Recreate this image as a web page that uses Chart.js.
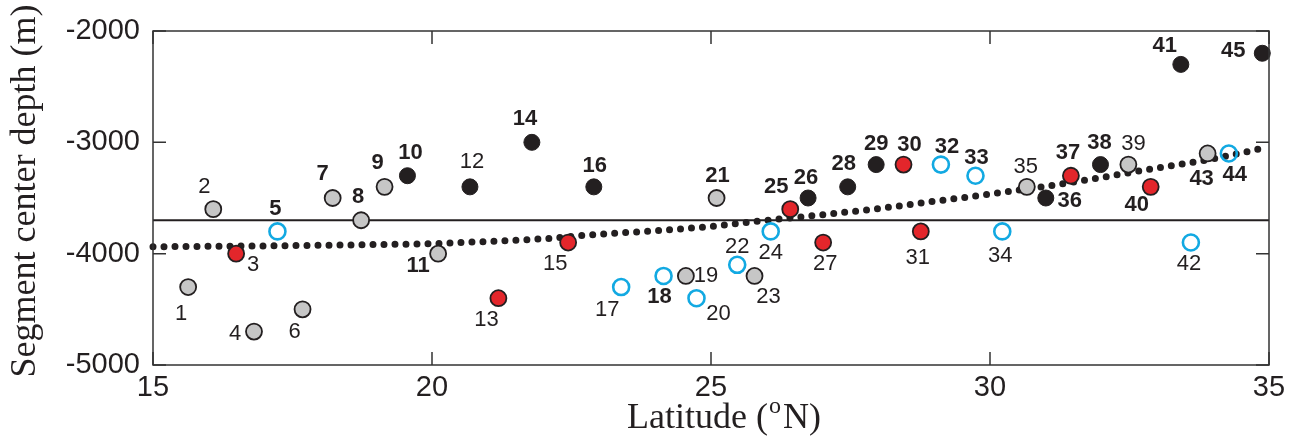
<!DOCTYPE html>
<html>
<head>
<meta charset="utf-8">
<script src="https://cdn.jsdelivr.net/npm/chart.js@4.4.0/dist/chart.umd.min.js"></script>
<style>
  html, body { margin: 0; padding: 0; background: #fff; }
  #wrap { width: 1300px; height: 440px; }
</style>
</head>
<body>
<div id="wrap"><canvas id="depth-chart" width="1300" height="440"></canvas></div>
<script>
// segment data
var segIds = [1,2,3,4,5,6,7,8,9,10,11,12,13,14,15,16,17,18,19,20,21,22,23,24,25,26,27,28,29,30,31,32,33,34,35,36,37,38,39,40,41,42,43,44,45];
var lats = [15.63,16.08,16.49,16.81,17.23,17.68,18.22,18.73,19.15,19.56,20.11,20.68,21.19,21.79,22.44,22.90,23.39,24.15,24.55,24.74,25.10,25.47,25.78,26.07,26.42,26.74,27.01,27.45,27.96,28.45,28.76,29.12,29.74,30.22,30.66,31.00,31.45,31.98,32.48,32.88,33.42,33.60,33.90,34.28,34.88];
var depths = [-4300,-3600,-4000,-4700,-3800,-4500,-3500,-3700,-3400,-3300,-4000,-3400,-4400,-3000,-3900,-3400,-4300,-4200,-4200,-4400,-3500,-4100,-4200,-3800,-3600,-3500,-3900,-3400,-3200,-3200,-3800,-3200,-3300,-3800,-3400,-3500,-3300,-3200,-3200,-3400,-2300,-3900,-3100,-3100,-2200];
// g = grey, r = red, b = black, c = open blue
var kinds = ["g","g","r","g","c","g","g","g","g","b","g","b","r","b","r","b","c","c","g","c","g","c","g","c","r","b","r","b","b","r","r","c","c","c","g","b","r","b","g","r","b","c","g","c","b"];

// mean depth line and the dotted trend curve
var meanLat = [15, 35];
var meanDepth = [-3700, -3700];
var trendLat = [15, 17, 19, 20, 21, 22, 23, 24, 25, 26, 27, 28, 29, 30, 31, 32, 33, 34, 34.8];
var trendDepth = [-3938, -3930, -3918, -3910, -3890, -3866, -3825, -3795, -3755, -3700, -3650, -3595, -3530, -3465, -3395, -3315, -3230, -3148, -3063];

var xTicks = [15, 20, 25, 30, 35];
var yTicks = [-5000, -4000, -3000, -2000];

// label placement (pixels from the marker) and weight
var labelDx = [-7,-9,17,-19,-2,-8,-10,-3,-7,3,-20,2,-12,-7,-13,1,-14,-4,20,22,1,0,14,0,-14,-2,2,-4,0,6,-3,6,1,-2,-1,24,-3,-1,5,-14,-16,-2,-6,6,-29];
var labelDy = [27,-22,11,2,-22,23,-24,-23,-24,-23,12,-25,22,-23,21,-21,23,21,0,16,-22,-18,21,22,-22,-20,21,-23,-21,-20,27,-18,-18,25,-20,3,-23,-22,-21,18,-18,21,25,21,-2];
var boldIds = [5,7,8,9,10,11,14,16,18,21,25,26,28,29,30,32,33,36,37,38,40,41,43,44,45];

var INK = "#231f20";

function pick(kind) {
	var pts = [];
	for (var i = 0; i < segIds.length; i++) {
		if (kinds[i] == kind) pts.push({ x: lats[i], y: depths[i] });
	}
	return pts;
}
function zip(xs, ys) {
	var pts = [];
	for (var i = 0; i < xs.length; i++) pts.push({ x: xs[i], y: ys[i] });
	return pts;
}

function pointSet(kind, fill, border, bw) {
	return {
		label: kind,
		data: pick(kind),
		showLine: false,
		pointRadius: 8,
		pointBackgroundColor: fill,
		pointBorderColor: border,
		pointBorderWidth: bw,
		clip: false,
		order: 1
	};
}

// frame with inward ticks, like the original plot
var framePlugin = {
	id: "frame",
	afterDatasetsDraw: function(chart) {
		var ctx = chart.ctx, a = chart.chartArea;
		var xs = chart.scales.x, ys = chart.scales.y;
		ctx.save();
		ctx.strokeStyle = "#333";
		ctx.lineWidth = 1.5;
		ctx.strokeRect(a.left, a.top, a.right - a.left, a.bottom - a.top);
		ctx.beginPath();
		xTicks.forEach(function(v) {
			var px = xs.getPixelForValue(v);
			ctx.moveTo(px, a.bottom); ctx.lineTo(px, a.bottom - 13);
			ctx.moveTo(px, a.top); ctx.lineTo(px, a.top + 13);
		});
		yTicks.forEach(function(v) {
			var py = ys.getPixelForValue(v);
			ctx.moveTo(a.left, py); ctx.lineTo(a.left + 13, py);
			ctx.moveTo(a.right, py); ctx.lineTo(a.right - 13, py);
		});
		ctx.stroke();
		ctx.restore();
	}
};

// segment numbers next to each marker
var idPlugin = {
	id: "segIds",
	afterDatasetsDraw: function(chart) {
		var ctx = chart.ctx;
		var xs = chart.scales.x, ys = chart.scales.y;
		ctx.save();
		ctx.fillStyle = INK;
		ctx.textAlign = "center";
		ctx.textBaseline = "middle";
		for (var i = 0; i < segIds.length; i++) {
			var bold = boldIds.indexOf(segIds[i]) >= 0;
			ctx.font = (bold ? "bold " : "") + "22px 'Liberation Sans', Arial, sans-serif";
			ctx.fillText(String(segIds[i]), xs.getPixelForValue(lats[i]) + labelDx[i], ys.getPixelForValue(depths[i]) + labelDy[i]);
		}
		ctx.restore();
	}
};

// axis titles (serif, superscript o in the x title)
var titlePlugin = {
	id: "titles",
	afterDraw: function(chart) {
		var ctx = chart.ctx;
		ctx.save();
		ctx.fillStyle = INK;
		ctx.textBaseline = "alphabetic";
		ctx.textAlign = "left";
		var big = "36px 'Liberation Serif', 'Times New Roman', serif";
		var small = "24px 'Liberation Serif', 'Times New Roman', serif";
		var p1 = "Latitude (", p2 = "o", p3 = "N)";
		ctx.font = big; var w1 = ctx.measureText(p1).width, w3 = ctx.measureText(p3).width;
		ctx.font = small; var w2 = ctx.measureText(p2).width;
		var x0 = 724 - (w1 + w2 + 3 + w3) / 2, base = 428;
		ctx.font = big; ctx.fillText(p1, x0, base);
		ctx.font = small; ctx.fillText(p2, x0 + w1 + 1, base - 15);
		ctx.font = big; ctx.fillText(p3, x0 + w1 + w2 + 3, base);

		ctx.translate(35, 191);
		ctx.rotate(-Math.PI / 2);
		ctx.textAlign = "center";
		ctx.font = big;
		ctx.fillText("Segment center depth (m)", 0, 0);
		ctx.restore();
	}
};

var tickFont = { family: "'Liberation Sans', Arial, sans-serif", size: 29 };

var ctx = document.getElementById("depth-chart");

var data = {
	datasets: [
		pointSet("g", "#c6c6c6", INK, 1.8),
		pointSet("r", "#e3262b", INK, 1.8),
		pointSet("b", INK, INK, 1),
		pointSet("c", "rgba(0,0,0,0)", "#12a9e2", 2.6),
		{
			label: "mean",
			data: zip(meanLat, meanDepth),
			showLine: true,
			borderColor: INK,
			borderWidth: 2,
			pointRadius: 0,
			clip: false,
			order: 2
		},
		{
			label: "trend",
			data: zip(trendLat, trendDepth),
			showLine: true,
			borderColor: INK,
			borderWidth: 7,
			borderDash: [0, 11],
			borderCapStyle: "round",
			cubicInterpolationMode: "monotone",
			pointRadius: 0,
			clip: false,
			order: 2
		}
	]
};

var options = {
	responsive: false,
	animation: false,
	events: [],
	layout: { padding: { top: 31, right: 31, left: 0, bottom: 0 } },
	plugins: {
		legend: { display: false },
		tooltip: { enabled: false }
	},
	scales: {
		x: {
			type: "linear",
			min: 15,
			max: 35,
			grid: { display: false, drawTicks: false },
			border: { display: false },
			afterBuildTicks: function(s) { s.ticks = xTicks.map(function(v) { return { value: v }; }); },
			afterFit: function(s) { s.height = 75; },
			ticks: { color: INK, font: tickFont, padding: 6, maxRotation: 0, callback: function(v) { return String(v); } }
		},
		y: {
			type: "linear",
			min: -5000,
			max: -2000,
			grid: { display: false, drawTicks: false },
			border: { display: false },
			afterBuildTicks: function(s) { s.ticks = yTicks.map(function(v) { return { value: v }; }); },
			afterFit: function(s) { s.width = 153; },
			ticks: { color: INK, font: tickFont, padding: 13, callback: function(v) { return String(v); } }
		}
	}
};

var chart = new Chart(ctx, {
	type: "scatter",
	data: data,
	options: options,
	plugins: [framePlugin, idPlugin, titlePlugin]
});
</script>
</body>
</html>
